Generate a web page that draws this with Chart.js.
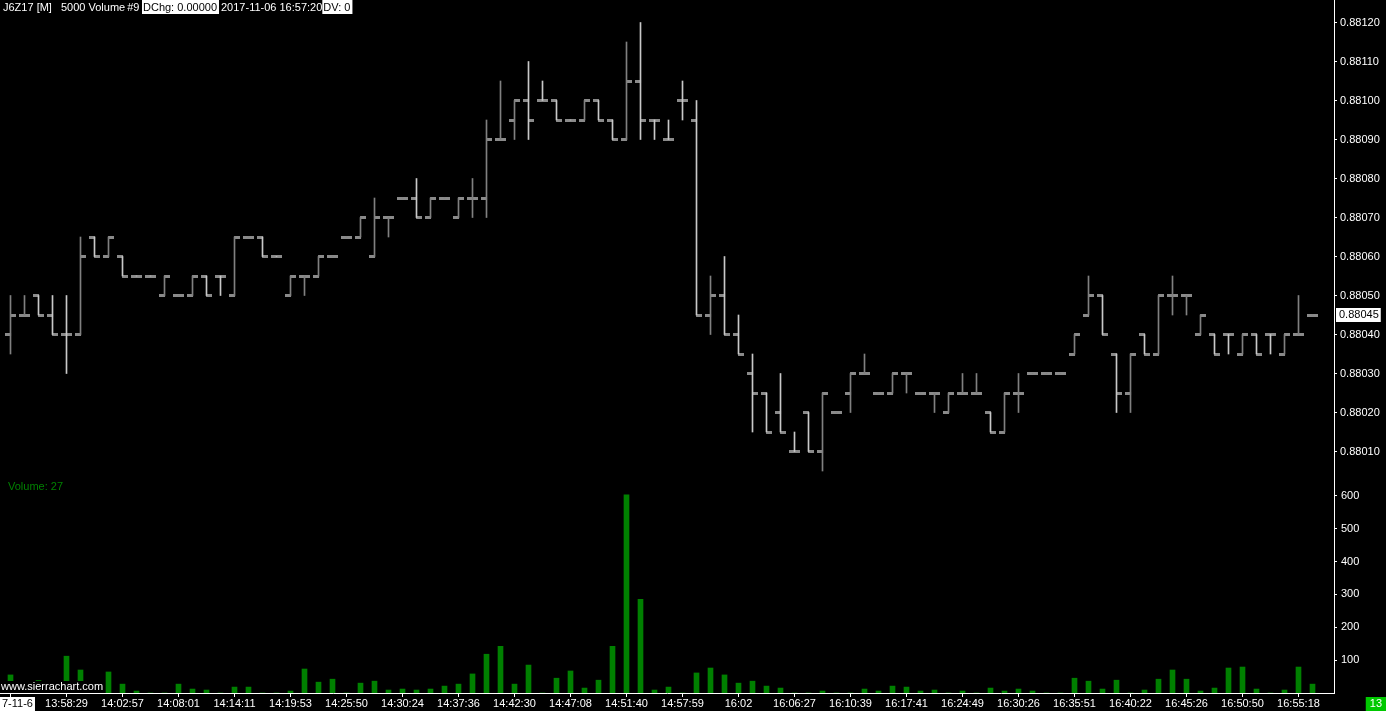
<!DOCTYPE html>
<html><head><meta charset="utf-8">
<script src="https://cdn.jsdelivr.net/npm/chart.js@4.4.1/dist/chart.umd.min.js"></script>
<style>html,body{margin:0;padding:0;background:#000;overflow:hidden}#wrap{position:relative;width:1386px;height:711px}</style>
</head><body><div id="wrap"><canvas id="c"></canvas></div>
<script>
// ---- data ----
const openP  = [0.88040,0.88045,0.88050,0.88045,0.88040,0.88040,0.88065,0.88060,0.88060,0.88055,
                0.88055,0.88050,0.88050,0.88050,0.88055,0.88055,0.88050,0.88065,0.88065,0.88060,
                0.88050,0.88055,0.88055,0.88060,0.88065,0.88065,0.88060,0.88070,0.88075,0.88075,
                0.88070,0.88075,0.88070,0.88075,0.88075,0.88090,0.88095,0.88100,0.88100,0.88100,
                0.88095,0.88095,0.88100,0.88095,0.88090,0.88105,0.88095,0.88090,0.88100,0.88095,
                0.88045,0.88050,0.88040,0.88030,0.88025,0.88020,0.88010,0.88020,0.88010,0.88020,
                0.88025,0.88030,0.88025,0.88025,0.88030,0.88025,0.88025,0.88020,0.88025,0.88025,
                0.88020,0.88015,0.88025,0.88030,0.88030,0.88030,0.88035,0.88045,0.88050,0.88035,
                0.88025,0.88040,0.88035,0.88050,0.88050,0.88040,0.88040,0.88040,0.88035,0.88040,
                0.88040,0.88035,0.88040,0.88045];
const highP  = [0.88050,0.88050,0.88050,0.88050,0.88050,0.88065,0.88065,0.88065,0.88060,0.88055,
                0.88055,0.88055,0.88050,0.88055,0.88055,0.88055,0.88065,0.88065,0.88065,0.88060,
                0.88055,0.88055,0.88060,0.88060,0.88065,0.88070,0.88075,0.88070,0.88075,0.88080,
                0.88075,0.88075,0.88075,0.88080,0.88095,0.88105,0.88100,0.88110,0.88105,0.88100,
                0.88095,0.88100,0.88100,0.88095,0.88115,0.88120,0.88095,0.88095,0.88105,0.88100,
                0.88055,0.88060,0.88045,0.88035,0.88025,0.88030,0.88015,0.88020,0.88025,0.88020,
                0.88030,0.88035,0.88025,0.88030,0.88030,0.88025,0.88025,0.88025,0.88030,0.88030,
                0.88020,0.88025,0.88030,0.88030,0.88030,0.88030,0.88040,0.88055,0.88050,0.88035,
                0.88035,0.88040,0.88050,0.88055,0.88050,0.88045,0.88040,0.88040,0.88040,0.88040,
                0.88040,0.88040,0.88050,0.88045];
const lowP   = [0.88035,0.88045,0.88045,0.88040,0.88030,0.88040,0.88060,0.88060,0.88055,0.88055,
                0.88055,0.88050,0.88050,0.88050,0.88050,0.88050,0.88050,0.88065,0.88060,0.88060,
                0.88050,0.88050,0.88055,0.88060,0.88065,0.88065,0.88060,0.88065,0.88075,0.88070,
                0.88070,0.88075,0.88070,0.88070,0.88070,0.88090,0.88090,0.88090,0.88100,0.88095,
                0.88095,0.88095,0.88095,0.88090,0.88090,0.88090,0.88090,0.88090,0.88095,0.88045,
                0.88040,0.88040,0.88035,0.88015,0.88015,0.88015,0.88010,0.88010,0.88005,0.88020,
                0.88020,0.88030,0.88025,0.88025,0.88025,0.88025,0.88020,0.88020,0.88025,0.88025,
                0.88015,0.88015,0.88020,0.88030,0.88030,0.88030,0.88035,0.88045,0.88040,0.88020,
                0.88020,0.88035,0.88035,0.88045,0.88045,0.88040,0.88035,0.88035,0.88035,0.88035,
                0.88035,0.88035,0.88040,0.88045];
const closeP = [0.88045,0.88045,0.88045,0.88040,0.88040,0.88060,0.88060,0.88065,0.88055,0.88055,
                0.88055,0.88055,0.88050,0.88055,0.88050,0.88055,0.88065,0.88065,0.88060,0.88060,
                0.88055,0.88055,0.88060,0.88060,0.88065,0.88070,0.88070,0.88070,0.88075,0.88070,
                0.88075,0.88075,0.88075,0.88075,0.88090,0.88090,0.88100,0.88095,0.88100,0.88095,
                0.88095,0.88100,0.88095,0.88090,0.88105,0.88095,0.88095,0.88090,0.88100,0.88045,
                0.88050,0.88040,0.88035,0.88025,0.88015,0.88015,0.88010,0.88010,0.88025,0.88020,
                0.88030,0.88030,0.88025,0.88030,0.88030,0.88025,0.88025,0.88025,0.88025,0.88025,
                0.88015,0.88025,0.88025,0.88030,0.88030,0.88030,0.88040,0.88050,0.88040,0.88025,
                0.88035,0.88035,0.88050,0.88050,0.88050,0.88045,0.88035,0.88040,0.88040,0.88035,
                0.88040,0.88040,0.88040,0.88045];
const volume = [55,20,38,15,112,70,25,64,27,6, 0,0,27,12,9,0,18,18,0,0,
                6,73,33,42,0,30,36,9,12,9, 12,21,27,58,118,142,27,85,0,45,
                67,15,39,142,603,285,9,18,0,61, 76,55,30,36,21,15,0,0,6,0,
                0,12,6,21,18,6,9,0,6,0, 15,6,12,6,0,0,45,36,12,39,
                0,9,42,70,42,6,15,76,79,12, 0,9,79,27];
const timeLabels = ['13:58:29','14:02:57','14:08:01','14:14:11','14:19:53','14:25:50','14:30:24',
                    '14:37:36','14:42:30','14:47:08','14:51:40','14:57:59','16:02','16:06:27',
                    '16:10:39','16:17:41','16:24:49','16:30:26','16:35:51','16:40:22','16:45:26',
                    '16:50:50','16:55:18'];
const dateLabel = '7-11-6';
const priceTicks = [0.88010,0.88020,0.88030,0.88040,0.88050,0.88060,0.88070,0.88080,0.88090,0.88100,0.88110,0.88120];
const volumeTicks = [100,200,300,400,500,600];
const headerParts = ['J6Z17 [M]','5000 Volume','#9','DChg: 0.00000','2017-11-06 16:57:20','DV: 0'];
const rightCounter = '13';

// ---- styling ----
const FONT = '"Liberation Sans", Arial, sans-serif';
const FSIZE = 11;
const UP = '#808080', DOWN = '#c8c8c8', TICKC = '#8a8a8a', VOLC = '#008000';
Chart.defaults.font.family = FONT;
Chart.defaults.font.size = FSIZE;
Chart.defaults.color = '#ffffff';

function tickImg(side){
  const c = document.createElement('canvas');
  c.width = 11; c.height = 3;
  const g = c.getContext('2d');
  g.fillStyle = TICKC;
  if (side === 'open') g.fillRect(0,0,6,3); else g.fillRect(5,0,6,3);
  return c;
}
const openImg = tickImg('open'), closeImg = tickImg('close');

let upState = true;
const barColors = closeP.map((c,i)=>{
  if (c > openP[i]) upState = true; else if (c < openP[i]) upState = false;
  return upState ? UP : DOWN;
});
const xTickIdx = [0].concat(timeLabels.map((_,k)=>4*(k+1)));

const deco = {
  id:'deco',
  afterDatasetsDraw(chart){
    const {ctx, chartArea:a} = chart;
    ctx.save();
    ctx.font = FSIZE + 'px ' + FONT;
    const t = 'www.sierrachart.com';
    const w = ctx.measureText(t).width;
    ctx.fillStyle = '#000';
    ctx.fillRect(a.left, a.bottom-12, w+3, 12);
    ctx.fillStyle = '#fff';
    ctx.textBaseline = 'middle';
    ctx.fillText(t, a.left+1, a.bottom-6);
    ctx.restore();
  },
  afterDraw(chart){
    const {ctx, chartArea:a, scales} = chart;
    ctx.save();
    ctx.font = FSIZE + 'px ' + FONT;
    ctx.textBaseline = 'middle';
    // header
    const xs = [3,61,126,143,219,323];
    let prevEnd = 0;
    headerParts.forEach((t,k)=>{
      const box = (k===3 || k===5);
      let x = Math.max(xs[k], prevEnd + (box?1:2));
      const w = ctx.measureText(t).width;
      if (box){ ctx.fillStyle='#fff'; ctx.fillRect(x-1,0,w+3,14); ctx.fillStyle='#000'; }
      else ctx.fillStyle='#fff';
      ctx.fillText(t, x, 7.5);
      prevEnd = x + w + (box?2:0);
    });
    // volume axis labels
    ctx.fillStyle = '#fff';
    volumeTicks.forEach(v=>{
      ctx.fillText(String(v), a.right+7, scales.yv.getPixelForValue(v));
    });
    // volume label
    ctx.fillStyle = VOLC;
    ctx.fillText('Volume: ' + volume[volume.length-1], a.left+8, 487);
    // last price box
    const lp = closeP[closeP.length-1];
    const yp = scales.y.getPixelForValue(lp);
    const lt = lp.toFixed(5);
    const lw = ctx.measureText(lt).width;
    ctx.fillStyle = '#fff';
    ctx.fillRect(a.right+2, Math.round(yp)-7, lw+5, 14);
    ctx.fillStyle = '#000';
    ctx.fillText(lt, a.right+5, yp);
    // date label bottom-left
    const dw = ctx.measureText(dateLabel).width;
    ctx.fillStyle = '#fff';
    ctx.fillRect(0, a.bottom+4, dw+4, 14);
    ctx.fillStyle = '#000';
    ctx.fillText(dateLabel, 2, a.bottom+11);
    // counter bottom-right
    const cw = ctx.measureText(rightCounter).width;
    ctx.fillStyle = '#00c800';
    ctx.fillRect(chart.width - cw - 8, a.bottom+4, cw+8, 14);
    ctx.fillStyle = '#fff';
    ctx.fillText(rightCounter, chart.width - cw - 4, a.bottom+11);
    ctx.restore();
  }
};

function noPad(s){ s.paddingTop = 0; s.paddingBottom = 0; s.paddingLeft = 0; s.paddingRight = 0; }

new Chart(document.getElementById('c'), {
  type:'bar',
  data:{
    datasets:[
      {type:'bar', label:'Volume', data: volume.map((v,i)=>({x:i,y:v})), xAxisID:'x', yAxisID:'yv',
       backgroundColor:VOLC, barThickness:5, grouped:false, order:4},
      {type:'scatter', label:'Open', data: openP.map((v,i)=>({x:i,y:v})), xAxisID:'x', yAxisID:'y',
       pointStyle:openImg, pointRadius:3, pointHoverRadius:3, order:3},
      {type:'scatter', label:'Close', data: closeP.map((v,i)=>({x:i,y:v})), xAxisID:'x', yAxisID:'y',
       pointStyle:closeImg, pointRadius:3, pointHoverRadius:3, order:2},
      {type:'bar', label:'Range', data: lowP.map((l,i)=>({x:i,y:[l,highP[i]]})), xAxisID:'x', yAxisID:'y',
       backgroundColor:barColors, barThickness:1, grouped:false, order:1}
    ]
  },
  options:{
    responsive:true, maintainAspectRatio:false, animation:false, events:[],
    layout:{padding:0, autoPadding:false},
    plugins:{legend:{display:false}, tooltip:{enabled:false}},
    scales:{
      x:{type:'linear', position:'bottom', offset:false, min:-0.75, max:94.5357,
         afterBuildTicks:s=>{ s.ticks = xTickIdx.map(v=>({value:v})); },
         afterFit:s=>{ s.height = 18; noPad(s); },
         grid:{offset:false, drawOnChartArea:false, drawTicks:true, tickLength:4, color:'#ffffff'},
         border:{color:'#ffffff', width:1},
         ticks:{autoSkip:false, maxRotation:0, padding:0, color:'#ffffff',
                callback:(v,i)=> i===0 ? '' : timeLabels[i-1]}},
      yv:{type:'linear', position:'right', weight:0, min:0, max:2109,
          afterBuildTicks:s=>{ s.ticks = volumeTicks.map(v=>({value:v})); },
          afterFit:s=>{ s.width = 0; noPad(s); },
          grid:{drawOnChartArea:false, drawTicks:true, tickLength:3, color:'#ffffff'},
          border:{color:'#ffffff', width:1},
          ticks:{autoSkip:false, padding:3, color:'#ffffff'}},
      y:{type:'linear', position:'right', weight:10, min:0.8794808, max:0.8812577,
         afterBuildTicks:s=>{ s.ticks = priceTicks.map(v=>({value:v})); },
         afterFit:s=>{ s.width = 52; noPad(s); },
         grid:{drawOnChartArea:false, drawTicks:true, tickLength:3, color:'#ffffff'},
         border:{color:'#ffffff', width:1},
         ticks:{autoSkip:false, padding:3, color:'#ffffff', callback:v=>v.toFixed(5)}}
    }
  },
  plugins:[deco]
});
</script></body></html>
